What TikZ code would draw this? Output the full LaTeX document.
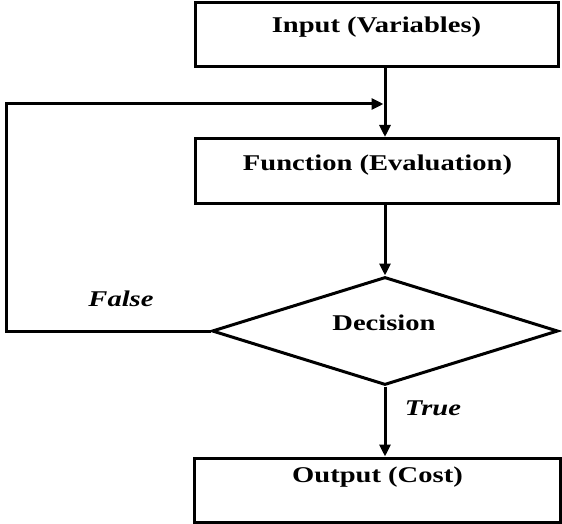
\documentclass[tikz,border=0pt]{standalone}
\usepackage{fontspec}
\setmainfont{Liberation Serif}[FakeStretch=1.27]
\usetikzlibrary{arrows.meta,shapes.geometric,calc}
\begin{document}
\begin{tikzpicture}[x=1pt,y=-1pt,
  line width=3pt,
  box/.style={draw,rectangle,inner sep=0pt},
  decbox/.style={draw,diamond,inner sep=0pt,minimum width=346pt,minimum height=108pt},
  lbl/.style={font=\fontsize{22.5}{27}\selectfont\bfseries,anchor=base,inner sep=0pt},
  tag/.style={font=\fontsize{22.5}{27}\selectfont\bfseries\itshape,anchor=base,inner sep=0pt},
  arr/.style={-{Triangle[length=12pt,width=11pt]}}]
\useasboundingbox (0,0) rectangle (562,524);

% process boxes
\node[box,minimum width=363pt,minimum height=64pt] (in)  at (376.5,35)  {};
\node[box,minimum width=363pt,minimum height=65pt] (fn)  at (376.5,171) {};
\node[decbox] (dec) at (385,331) {};
\node[box,minimum width=366pt,minimum height=64pt] (out) at (377,490)   {};

% box texts
\node[lbl] (inT)  at (376.5,33)  {Input (Variables)};
\node[lbl] (fnT)  at (377.5,170) {Function (Evaluation)};
\node[lbl] (decT) at (384,330)   {Decision};
\node[lbl] (outT) at (377.5,482) {Output (Cost)};

% branch labels
\node[tag] (falseT) at (121,306) {False};
\node[tag] (trueT)  at (433,415) {True};

% main flow
\draw[arr] (in.south -| dec.north) -- (fn.north -| dec.north);
\draw[arr] (fn.south -| dec.north) -- (dec.north);
\draw[arr] (dec.south) -- (out.north -| dec.south);

% feedback loop on False
\coordinate (loopc) at (6,104);
\coordinate (join)  at ($(dec.north |- loopc)+(-1.5,0)$);
\draw[arr,line join=miter] (dec.west) -| (loopc) -- (join);
\end{tikzpicture}
\end{document}
